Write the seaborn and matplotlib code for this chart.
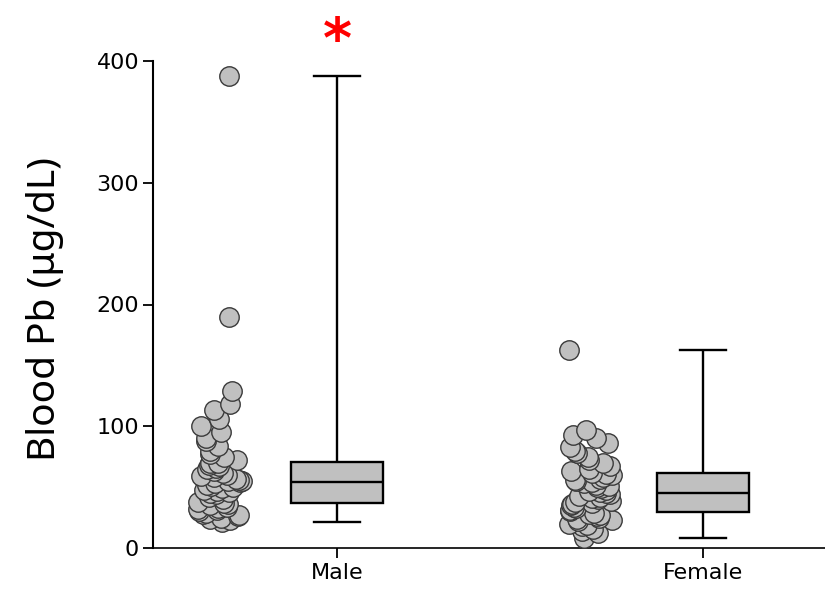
import numpy as np
import pandas as pd
import seaborn as sns
import matplotlib.pyplot as plt

# ---- data ----
groups = ["Male", "Female"]
male_pb = [21, 23, 24, 25, 26, 27, 28, 29, 30, 31, 32, 33, 34, 35, 36,
           37, 38, 40, 42, 44, 45, 46, 47, 48, 49, 50, 51, 52, 53, 54,
           55, 55, 56, 57, 58, 59, 60, 62, 63, 65, 66, 67, 68, 70, 70,
           72, 75, 77, 80, 84, 88, 90, 95, 100, 106, 113, 118, 129, 190, 388]
female_pb = [8, 12, 14, 16, 18, 19, 20, 22, 23, 24, 25, 26, 27, 28, 29,
             30, 31, 33, 34, 35, 36, 37, 38, 39, 40, 41, 42, 43, 44, 45,
             46, 47, 48, 49, 50, 51, 52, 53, 54, 55, 56, 57, 58, 60, 61,
             62, 63, 65, 67, 70, 72, 75, 78, 80, 83, 86, 90, 93, 97, 163]
yticks = [0, 100, 200, 300, 400]

# ---- layout (positions on x axis) ----
scatter_pos = [0.0, 3.16]
box_pos = [1.0, 4.13]

plt.rcParams['font.family'] = ['DejaVu Sans']

df_pts = pd.DataFrame({
    "pos": [scatter_pos[0]] * len(male_pb) + [scatter_pos[1]] * len(female_pb),
    "pb": male_pb + female_pb,
})
df_box = pd.DataFrame({
    "pos": [box_pos[0]] * len(male_pb) + [box_pos[1]] * len(female_pb),
    "pb": male_pb + female_pb,
})

fig = plt.figure(figsize=(8.25, 5.93), dpi=100)
ax = fig.add_axes([153 / 825, 1 - 548 / 593, 1 - 153 / 825, (548 - 61) / 593])

np.random.seed(3)
sns.stripplot(data=df_pts, x="pos", y="pb", native_scale=True,
              jitter=0.2 / (scatter_pos[1] - scatter_pos[0]), size=14,
              color="#c0c0c0", edgecolor="#3a3a3a", linewidth=1,
              ax=ax, clip_on=False, zorder=3)

sns.boxplot(data=df_box, x="pos", y="pb", native_scale=True,
            width=0.786 / (box_pos[1] - box_pos[0]), whis=(0, 100),
            color="#c0c0c0", linecolor="black", linewidth=1.7,
            saturation=1, ax=ax)

ax.set_xlim(-0.573, 5.17)
ax.set_ylim(0, 400)
ax.set_yticks(yticks)
ax.set_xticks(box_pos)
ax.set_xticklabels(groups)
ax.set_xlabel("")
ax.set_ylabel("Blood Pb (μg/dL)", fontsize=28, family="Noto Sans")
ax.yaxis.set_label_coords(-0.133, 0.49)

for s in ["top", "right"]:
    ax.spines[s].set_visible(False)
ax.spines["left"].set_linewidth(1.5)
ax.spines["bottom"].set_linewidth(1.2)
ax.tick_params(axis="both", length=7, width=1.3, labelsize=16, colors="black")
ax.tick_params(axis="y", pad=3)

ax.text(box_pos[0], 416, "*", color="red", fontsize=40, fontweight="bold",
        ha="center", va="center", clip_on=False)

fig.savefig("out.png", dpi=100)
